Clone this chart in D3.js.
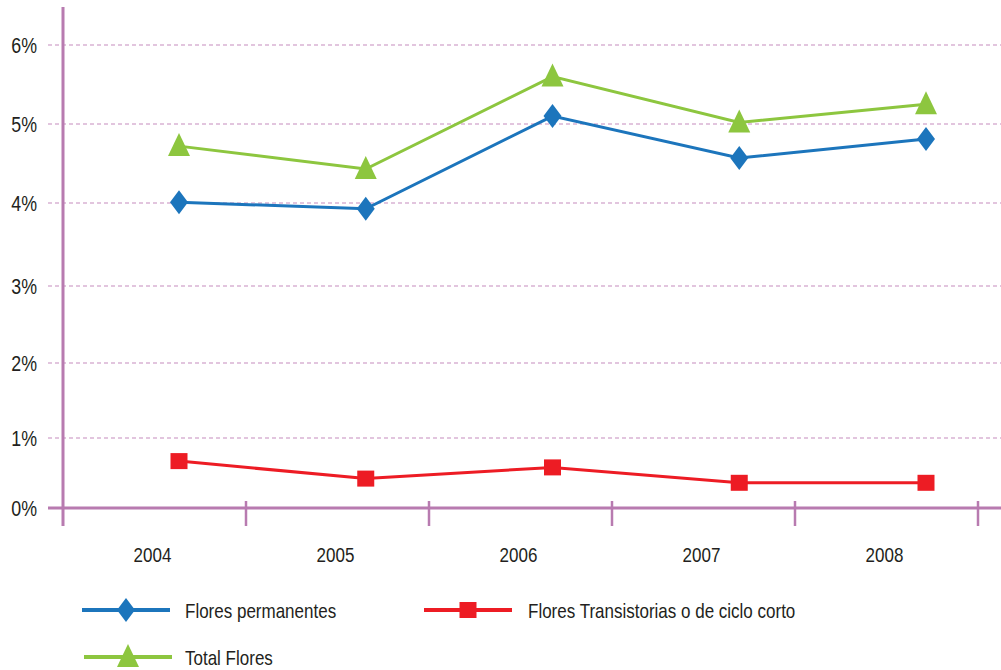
<!DOCTYPE html>
<html>
<head>
<meta charset="utf-8">
<script src="https://cdn.jsdelivr.net/npm/d3@7"></script>
<style>
body { margin: 0; background: #fff; }
svg text { font-family: "Liberation Sans", Arial, sans-serif; fill: #231f20; }
</style>
</head>
<body>
<svg width="1001" height="670"></svg>
<script>
// data (percent)
const years = ["2004", "2005", "2006", "2007", "2008"];
const permanentes = [4.01, 3.93, 5.1, 4.57, 4.81];
const transitorias = [0.67, 0.42, 0.58, 0.36, 0.36];
const total = [4.72, 4.43, 5.6, 5.02, 5.25];
const yTicks = [0, 1, 2, 3, 4, 5, 6];
const yTickLabels = ["0%", "1%", "2%", "3%", "4%", "5%", "6%"];

const axisColor = "#b87bb0";
const gridColor = "#d9b2d4";
const narrow = 0.81; // the original font is a condensed one

var svg = d3.select("svg");

// the original's gridlines are not evenly spaced, so use a piecewise scale
var y = d3.scaleLinear().domain(yTicks).range([508, 438, 363, 286, 203, 124, 45]);
var band = d3.scaleBand().domain(years).range([63, 978]);
var x = d3.scalePoint().domain(years).range([179, 926]);

function label(sel, tx, ty, txt, size, anchor) {
	return sel.append("text")
		.attr("transform", "translate(" + tx + "," + ty + ") scale(" + narrow + ",1)")
		.attr("text-anchor", anchor || "start")
		.style("font-size", size + "px")
		.text(txt);
}

// gridlines
svg.append("g").selectAll("line")
	.data(yTicks.filter(d => d > 0))
	.enter().append("line")
	.attr("x1", 48).attr("x2", 1001)
	.attr("y1", d => y(d)).attr("y2", d => y(d))
	.attr("stroke", gridColor)
	.attr("stroke-width", 1.3)
	.attr("stroke-dasharray", "4,3");

// y tick labels
var yl = svg.append("g");
yTicks.forEach(function(d, i) {
	label(yl, 37, y(d) + 7.5, yTickLabels[i], 22, "end");
});

// x axis
svg.append("line")
	.attr("x1", 48).attr("x2", 1001)
	.attr("y1", y(0)).attr("y2", y(0))
	.attr("stroke", axisColor).attr("stroke-width", 3);

var edges = years.map(d => band(d)).concat([band("2008") + band.bandwidth()]);
svg.append("g").selectAll("line")
	.data(edges.slice(1))
	.enter().append("line")
	.attr("x1", d => d).attr("x2", d => d)
	.attr("y1", 501).attr("y2", 526)
	.attr("stroke", axisColor).attr("stroke-width", 2.5);

// y axis
svg.append("line")
	.attr("x1", 63).attr("x2", 63)
	.attr("y1", 7).attr("y2", 526)
	.attr("stroke", axisColor).attr("stroke-width", 3);

var xl = svg.append("g");
years.forEach(function(d) {
	label(xl, band(d) + band.bandwidth() / 2 - 2, 562, d, 21, "middle");
});

var line = d3.line().x((d, i) => x(years[i])).y(d => y(d));

function marker(sel, shape, color) {
	if (shape == "diamond") {
		sel.append("path").attr("d", "M0,-12L9,0L0,12L-9,0Z").attr("fill", color);
	} else if (shape == "square") {
		sel.append("rect").attr("x", -8.5).attr("y", -8).attr("width", 17).attr("height", 16).attr("fill", color);
	} else {
		sel.append("path").attr("d", "M0,-13L11,10L-11,10Z").attr("fill", color);
	}
}

const series = [
	{values: permanentes, color: "#1c75bc", shape: "diamond", name: "Flores permanentes"},
	{values: transitorias, color: "#ed1c24", shape: "square", name: "Flores Transistorias o de ciclo corto"},
	{values: total, color: "#8dc63f", shape: "triangle", name: "Total Flores"},
];

series.forEach(function(s) {
	svg.append("path")
		.attr("d", line(s.values))
		.attr("fill", "none")
		.attr("stroke", s.color)
		.attr("stroke-width", 3);
	svg.append("g").selectAll("g")
		.data(s.values)
		.enter().append("g")
		.attr("transform", (d, i) => "translate(" + x(years[i]) + "," + y(d) + ")")
		.each(function() { marker(d3.select(this), s.shape, s.color); });
});

// legend
const legendPos = [[82, 610, 185], [424, 610, 528], [84, 657, 185]];
series.forEach(function(s, i) {
	var p = legendPos[i];
	var lg = svg.append("g").attr("transform", "translate(" + p[0] + "," + p[1] + ")");
	lg.append("line").attr("x1", 0).attr("x2", 88).attr("y1", 0).attr("y2", 0)
		.attr("stroke", s.color).attr("stroke-width", 4);
	marker(lg.append("g").attr("transform", "translate(44,0)"), s.shape, s.color);
	label(svg, p[2], p[1] + 7.5, s.name, 21);
});
</script>
</body>
</html>
